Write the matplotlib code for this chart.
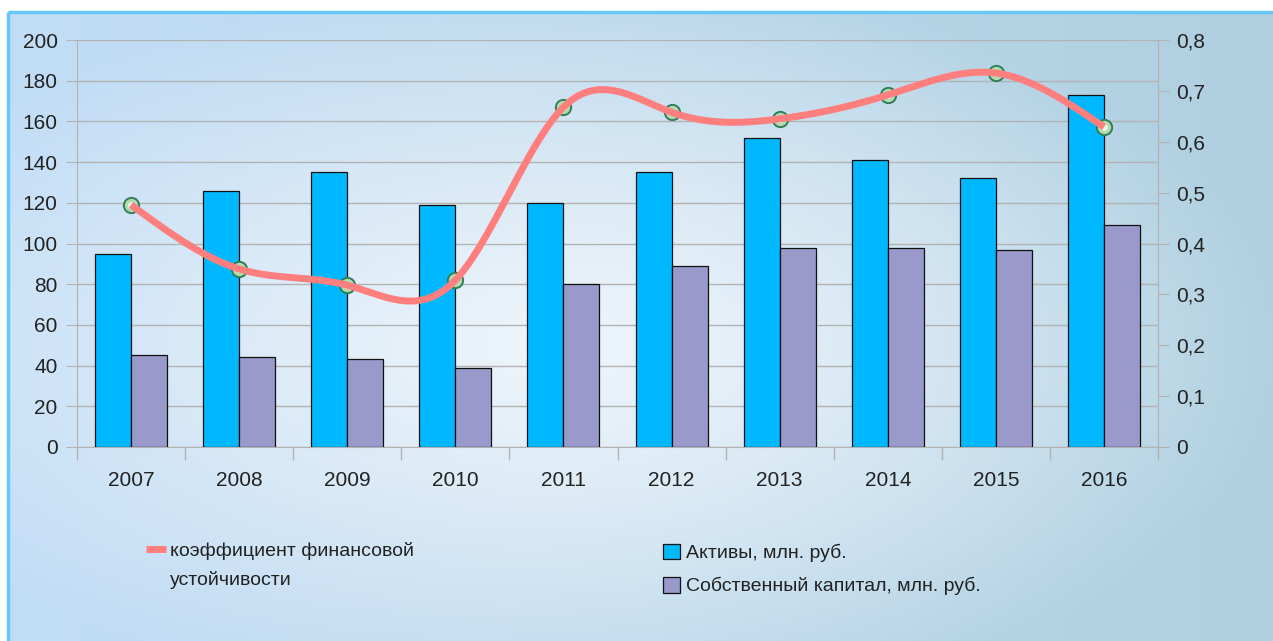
import numpy as np
import matplotlib
matplotlib.use('Agg')
import matplotlib.pyplot as plt
from matplotlib.patches import Rectangle
from matplotlib.ticker import FuncFormatter, FixedLocator

plt.rcParams['font.family'] = ['Liberation Sans', 'DejaVu Sans']

years = ['2007', '2008', '2009', '2010', '2011', '2012', '2013', '2014', '2015', '2016']
assets = [95, 126, 135, 119, 120, 135, 152, 141, 132, 173]
equity = [45, 44, 43, 39, 80, 89, 98, 98, 97, 109]
coef = [0.476, 0.350, 0.318, 0.328, 0.668, 0.658, 0.645, 0.692, 0.735, 0.629]

lbl_coef = ['коэффициент финансовой', 'устойчивости']
lbl_assets = 'Активы, млн. руб.'
lbl_equity = 'Собственный капитал, млн. руб.'

W, H = 1273, 641
fig = plt.figure(figsize=(W / 100, H / 100), dpi=100)
fig.patch.set_facecolor('white')

# background gradient
bg = fig.add_axes([0, 0, 1, 1])
bg.set_xlim(0, W)
bg.set_ylim(H, 0)
bg.axis('off')
yy, xx = np.mgrid[0:H, 0:W]
d = np.clip(np.sqrt(((xx - 560) / 720.0) ** 2 + ((yy - 340) / 380.0) ** 2), 0, 1)
t = (xx / W)[..., None]
left_c = np.array([0xc2, 0xdd, 0xf6]) / 255
right_c = np.array([0xb0, 0xd0, 0xe0]) / 255
inner = np.array([0xee, 0xf5, 0xfb]) / 255
outer = left_c * (1 - t) + right_c * t
w = (d ** 1.2)[..., None]
img = inner * (1 - w) + outer * w
bg.imshow(img, extent=(10, W, H, 14), aspect='auto', zorder=0)
bg.add_patch(Rectangle((8, 12), W, H, fill=False, edgecolor='#66c8f8', lw=2.5, zorder=1))

ax = fig.add_axes([77 / W, 1 - 447 / H, (1158 - 77) / W, (447 - 40) / H])
ax.patch.set_alpha(0)
x = np.arange(len(years))
bw = 1 / 3
ax.bar(x - bw / 2, assets, bw, color='#00b8ff', edgecolor='#111111', lw=0.9, zorder=3, label=lbl_assets)
ax.bar(x + bw / 2, equity, bw, color='#9999cc', edgecolor='#111111', lw=0.9, zorder=3, label=lbl_equity)
ax.set_xlim(-0.5, len(years) - 0.5)
ax.set_ylim(0, 200)
ax.set_yticks(np.arange(0, 201, 20))
ax.grid(axis='y', color='#b3b3b3', lw=1.0, zorder=1)
ax.set_xticks(x)
ax.set_xticklabels(years)
ax.xaxis.set_minor_locator(FixedLocator(np.arange(-0.5, len(years), 1)))
ax.tick_params(axis='x', which='major', length=0, pad=17, labelsize=15, colors='#222222')
ax.tick_params(axis='x', which='minor', length=9, color='#b3b3b3', width=1)
ax.tick_params(axis='y', length=8, pad=6, color='#b3b3b3', labelsize=15, labelcolor='#222222')
for s in ['left', 'bottom', 'right']:
    ax.spines[s].set_color('#b3b3b3')
ax.spines['top'].set_visible(False)

ax2 = ax.twinx()
ax2.set_ylim(0, 0.8)
ax2.set_yticks(np.arange(0, 0.81, 0.1))
ax2.yaxis.set_major_formatter(FuncFormatter(lambda v, p: '0' if abs(v) < 1e-9 else ('%.1f' % v).replace('.', ',')))
ax2.tick_params(axis='y', length=8, pad=5, color='#b3b3b3', labelsize=15, labelcolor='#222222')
for s in ['left', 'bottom', 'top']:
    ax2.spines[s].set_visible(False)
ax2.spines['right'].set_color('#b3b3b3')


def natural_spline(xs, ys, n=400):
    xs = np.asarray(xs, float)
    ys = np.asarray(ys, float)
    m = len(xs)
    h = np.diff(xs)
    A = np.zeros((m, m))
    b = np.zeros(m)
    A[0, 0] = A[-1, -1] = 1
    for i in range(1, m - 1):
        A[i, i - 1] = h[i - 1]
        A[i, i] = 2 * (h[i - 1] + h[i])
        A[i, i + 1] = h[i]
        b[i] = 6 * ((ys[i + 1] - ys[i]) / h[i] - (ys[i] - ys[i - 1]) / h[i - 1])
    M = np.linalg.solve(A, b)
    xf = np.linspace(xs[0], xs[-1], n)
    idx = np.clip(np.searchsorted(xs, xf) - 1, 0, m - 2)
    x0, x1 = xs[idx], xs[idx + 1]
    hh = x1 - x0
    yf = (M[idx] * (x1 - xf) ** 3 / (6 * hh) + M[idx + 1] * (xf - x0) ** 3 / (6 * hh)
          + (ys[idx] / hh - M[idx] * hh / 6) * (x1 - xf)
          + (ys[idx + 1] / hh - M[idx + 1] * hh / 6) * (xf - x0))
    return xf, yf


xs, ys = natural_spline(x, coef)
ax2.plot(x, coef, 'o', ms=11, mfc='#b4d9ae', mec='#2f7f58', mew=1.4, ls='none', zorder=3)
ax2.plot(x, coef, 'o', ms=5, mfc='#e8f5e4', mec='none', ls='none', zorder=3)
ln, = ax2.plot(xs, ys, color='#ff7f7f', lw=5, solid_capstyle='butt', zorder=4)

h1, l1 = ax.get_legend_handles_labels()
fig.legend([ln], [lbl_coef[0]], loc='center left', bbox_to_anchor=(146 / W, 1 - 551 / H),
           frameon=False, fontsize=14, borderpad=0, borderaxespad=0,
           handlelength=1.03, handletextpad=0.2, labelcolor='#222222')
fig.text(170 / W, 1 - 580 / H, lbl_coef[1], fontsize=14, color='#222222', va='center', ha='left')
fig.legend(h1, l1, loc='center left', bbox_to_anchor=(663 / W, 1 - 569.5 / H),
           frameon=False, fontsize=14, borderpad=0, borderaxespad=0,
           handlelength=0.88, handleheight=0.88, handletextpad=0.3,
           labelspacing=0.75, labelcolor='#222222')

fig.savefig('out.png', dpi=100)
